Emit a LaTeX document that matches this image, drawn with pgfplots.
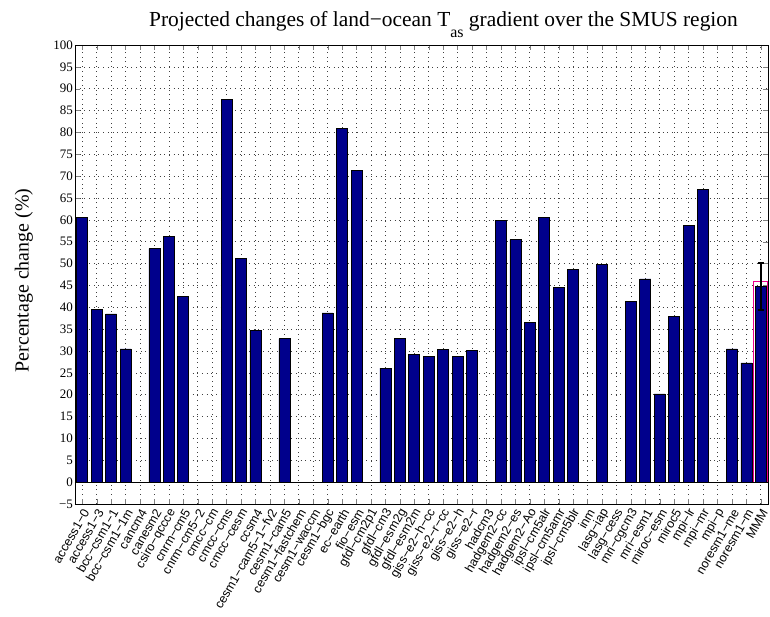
\documentclass[border=0pt]{standalone}
\usepackage{fontspec}
\setmainfont{Liberation Serif}
\newfontfamily\sansf{Liberation Sans}
\usepackage{pgfplots}
\usepackage{pgfplotstable}
\pgfplotsset{compat=1.18}
\definecolor{barblue}{rgb}{0,0,0.55}
\pgfplotstableread{
x y
1 60.6
2 39.5
3 38.5
4 30.5
5 0
6 53.4
7 56.3
8 42.5
9 0
10 0
11 87.6
12 51.1
13 34.8
14 0
15 32.8
16 0
17 0
18 38.7
19 80.9
20 71.4
21 0
22 26.1
23 32.9
24 29.3
25 28.7
26 30.3
27 28.8
28 30.1
29 0
30 59.8
31 55.5
32 36.5
33 60.5
34 44.5
35 48.7
36 0
37 49.9
38 0
39 41.3
40 46.5
41 20.2
42 37.9
43 58.7
44 66.9
45 0
46 30.5
47 27.3
48 44.8
}\bars
\begin{document}
\begin{tikzpicture}
\begin{axis}[
 scale only axis, width=693bp, height=459bp,
 xmin=0.5, xmax=48.5, ymin=-5, ymax=100,
 ytick={-5,0,5,10,15,20,25,30,35,40,45,50,55,60,65,70,75,80,85,90,95,100},
 yticklabels={−5,0,5,10,15,20,25,30,35,40,45,50,55,60,65,70,75,80,85,90,95,100},
 xtick={1,...,48},
 xticklabels={access1−0,access1−3,bcc−csm1−1,bcc−csm1−1m,cancm4,canesm2,csiro−qccce,cnrm−cm5,cnrm−cm5−2,cmcc−cm,cmcc−cms,cmcc−cesm,ccsm4,cesm1−cam5−1−fv2,cesm1−cam5,cesm1−fastchem,cesm1−waccm,cesm1−bgc,ec−earth,fio−esm,gfdl−cm2p1,gfdl−cm3,gfdl−esm2g,gfdl−esm2m,giss−e2−h−cc,giss−e2−r−cc,giss−e2−h,giss−e2−r,hadcm3,hadgem2−cc,hadgem2−es,hadgem2−Ao,ipsl−cm5alr,ipsl−cm5amr,ipsl−cm5blr,inm,lasg−iap,lasg−cess,mri−cgcm3,mri−esm1,miroc−esm,miroc5,mpi−lr,mpi−mr,mpi−p,noresm1−me,noresm1−m,MMM},
 x tick label style={font=\sansf\fontsize{12.5}{12.5}\selectfont, xshift=4bp, yshift=-6bp, rotate=60, anchor=east, inner sep=0pt},
 y tick label style={font=\fontsize{13}{13}\selectfont, inner sep=2bp},
 tick align=inside,
 major tick length=5bp,
 grid=major,
 grid style={dash pattern=on 0.7bp off 4bp, black!75, line width=0.6bp},
 axis line style={line width=0.8bp},
 ylabel={Percentage change (\%)},
 ylabel style={font=\fontsize{20}{20}\selectfont, yshift=15bp, xshift=-6bp},
 title={Projected changes of land−ocean T\raisebox{-0.5em}{\fontsize{16}{16}\selectfont as} gradient over the SMUS region},
 title style={font=\fontsize{21.5}{21.5}\selectfont, yshift=-2bp, xshift=22bp},
 clip=false,
]
\addplot[ybar, bar width=0.76, bar shift=0pt, fill=barblue, draw=black, line width=0.6bp] table[x=x,y=y] {\bars};
\addplot[ybar, bar width=0.97, bar shift=0pt, fill=none, draw=magenta, line width=0.8bp] coordinates {(48,46.0)};
\addplot[black, line width=0.8bp] coordinates {(0.5,0) (48.5,0)};
\addplot[black, mark=none, error bars/.cd, y dir=both, y explicit,
  error bar style={line width=1.8bp, black},
  error mark options={rotate=90, mark size=3bp, line width=1.8bp, black}]
  coordinates {(48,44.7) +- (0,5.4)};
\end{axis}
\path[use as bounding box] ([xshift=-75bp,yshift=-113bp]current axis.south west) rectangle ([xshift=2bp,yshift=45bp]current axis.north east);
\end{tikzpicture}
\end{document}
